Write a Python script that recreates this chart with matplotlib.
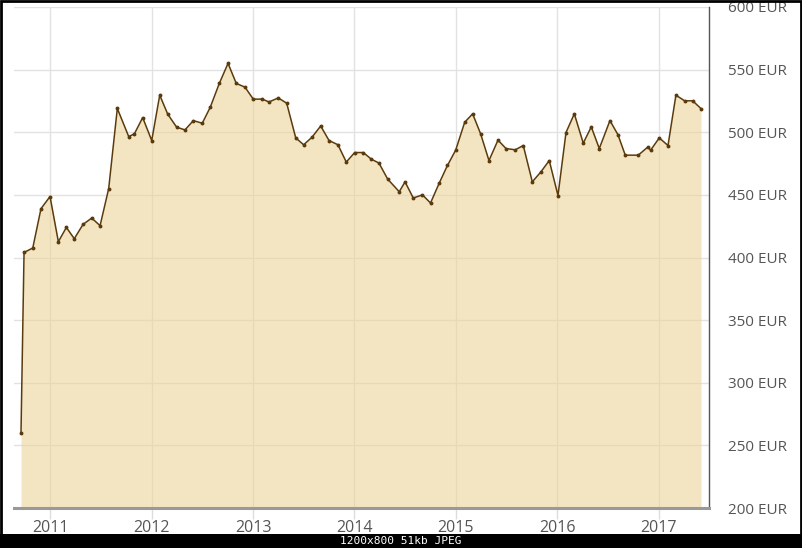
import matplotlib.pyplot as plt
from matplotlib.patches import Rectangle

# price history, x in decimal years
years = [2010.714, 2010.744, 2010.830, 2010.911, 2011.000, 2011.082, 2011.161, 2011.239,
         2011.325, 2011.411, 2011.493, 2011.578, 2011.663, 2011.775, 2011.831, 2011.913,
         2012.002, 2012.081, 2012.160, 2012.248, 2012.330, 2012.412, 2012.500, 2012.579,
         2012.668, 2012.754, 2012.835, 2012.921, 2013.003, 2013.089, 2013.158, 2013.249,
         2013.332, 2013.421, 2013.499, 2013.581, 2013.667, 2013.749, 2013.837, 2013.919,
         2014.002, 2014.087, 2014.166, 2014.241, 2014.327, 2014.441, 2014.498, 2014.579,
         2014.670, 2014.749, 2014.835, 2014.916, 2014.997, 2015.086, 2015.164, 2015.243,
         2015.325, 2015.414, 2015.493, 2015.584, 2015.663, 2015.752, 2015.837, 2015.919,
         2016.005, 2016.084, 2016.166, 2016.254, 2016.333, 2016.412, 2016.517, 2016.596,
         2016.668, 2016.796, 2016.889, 2016.918, 2017.003, 2017.089, 2017.167, 2017.253,
         2017.332, 2017.414]
prices = [260, 404, 407.6, 439, 448.7, 412.6, 424, 415,
          426.4, 431.5, 425.4, 455, 519, 496.6, 498.7, 511.7,
          493.4, 529.6, 514.4, 504, 501.9, 509.3, 507.2, 520,
          539, 555, 539, 536, 526.4, 526.5, 524.2, 527.4,
          523.2, 495.5, 490, 496, 505, 493.4, 490, 476.2,
          483.8, 483.8, 478.5, 475.4, 462.6, 452.5, 460.4, 447.5,
          450, 443.5, 459.4, 473.5, 485.7, 508, 514.7, 498.7,
          477.4, 493.7, 487, 486, 489.4, 460.4, 468.4, 477.4,
          449.5, 499.8, 514.7, 491.3, 504.3, 487, 509.3, 498,
          481.7, 481.7, 488.1, 485.7, 495.5, 489.4, 529.6, 525.1,
          525.1, 518.9]

year_ticks = [2011, 2012, 2013, 2014, 2015, 2016, 2017]
price_ticks = [200, 250, 300, 350, 400, 450, 500, 550, 600]

fig = plt.figure(figsize=(8.02, 5.48), dpi=100)
ax = fig.add_axes([14 / 802, 40 / 548, 695 / 802, 501 / 548])

ax.set_xlim(2010.645, 2017.493)
ax.set_ylim(200, 600)

ax.fill_between(years, prices, 200, color='#EDD49A', alpha=0.6, lw=0, zorder=2)
ax.plot(years, prices, color='#5b3b0c', lw=1.1, marker='o', ms=1.8, zorder=3)

ax.set_xticks(year_ticks)
ax.set_xticklabels([str(y) for y in year_ticks])
ax.set_yticks(price_ticks)
ax.set_yticklabels([f'{p} EUR' for p in price_ticks])
ax.yaxis.tick_right()

ax.grid(True, color='#e2e2e2', lw=1, zorder=1)
ax.set_axisbelow(True)

for s in ['top', 'left']:
    ax.spines[s].set_visible(False)
ax.spines['right'].set_color('#555555')
ax.spines['right'].set_linewidth(1)
ax.spines['bottom'].set_color('#999999')
ax.spines['bottom'].set_linewidth(2.2)
ax.spines['bottom'].set_zorder(4)

ax.tick_params(axis='x', length=8, width=1, color='#dddddd', pad=1,
               labelsize=11.5, labelcolor='#555555')
ax.tick_params(axis='y', length=0, pad=14, labelsize=11, labelcolor='#555555')
for lbl in ax.get_xticklabels() + ax.get_yticklabels():
    lbl.set_family('Open Sans')

# black frame and info bar of the screenshot
fig.patches.append(Rectangle((0, 0), 1, 14 / 548, transform=fig.transFigure,
                             facecolor='black', edgecolor='none'))
fig.patches.append(Rectangle((0.001, 0.001), 0.998, 0.998, transform=fig.transFigure,
                             facecolor='none', edgecolor='black', lw=2))
fig.text(0.5, 7 / 548, '1200x800 51kb JPEG', color='white', ha='center', va='center',
         family='DejaVu Sans Mono', fontsize=8)

fig.savefig('out.png', dpi=100)
